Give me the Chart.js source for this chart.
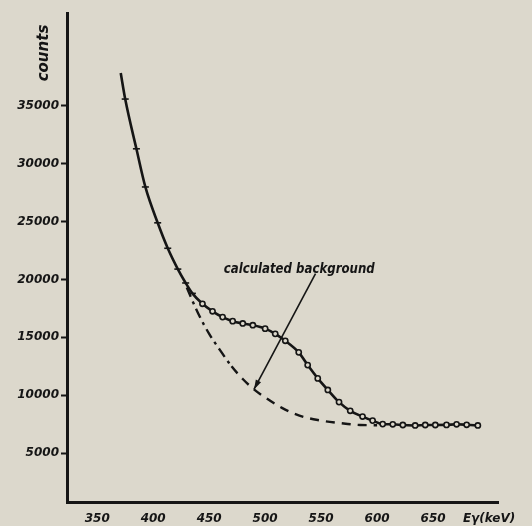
<!DOCTYPE html>
<html>
<head>
<meta charset="utf-8">
<script src="https://cdn.jsdelivr.net/npm/chart.js@4.4.0/dist/chart.umd.min.js"></script>
<style>
  html, body { margin: 0; padding: 0; background: #dcd8cc; }
  #wrap { width: 532px; height: 526px; position: relative; }
</style>
</head>
<body>
<div id="wrap"><canvas id="spectrum"></canvas></div>
<script>
// measured spectrum
const energy = [371, 375, 385, 393, 404, 413, 422, 429, 435, 444, 453, 462, 471, 480, 489, 500, 509, 518, 530, 538, 547, 556, 566, 576, 587, 596, 605, 614, 623, 634, 643, 652, 662, 671, 680, 690];
const counts = [37850, 35600, 31300, 28000, 24900, 22700, 20900, 19700, 18800, 17900, 17250, 16750, 16400, 16200, 16050, 15750, 15300, 14700, 13700, 12600, 11450, 10450, 9400, 8650, 8150, 7800, 7500, 7480, 7420, 7380, 7420, 7420, 7430, 7480, 7440, 7380];

// calculated background curve
const bgEnergy = [430, 440, 450, 460, 470, 480, 490, 500, 515, 530, 547, 567, 585, 600];
const bgCounts = [19300, 17100, 15300, 13850, 12500, 11400, 10500, 9800, 8900, 8250, 7850, 7590, 7420, 7400];

const xTicks = [350, 400, 450, 500, 550, 600, 650, 700];
const yTicks = [5000, 10000, 15000, 20000, 25000, 30000, 35000];
const xUnitLabel = "E\u03B3(keV)";
const yTitle = "counts";
const note = "calculated background";

const ink = "#151515";
const paper = "#dcd8cc";
const tickFont = { family: "'DejaVu Sans', sans-serif", size: 12, style: "italic", weight: "bold" };

const measured = energy.map((e, i) => ({ x: e, y: counts[i] }));
const background = bgEnergy.map((e, i) => ({ x: e, y: bgCounts[i] }));

// first part of the curve has small notch marks, later part open circles
const markStyle = energy.map((e, i) => i === 0 ? false : (e < 440 ? 'line' : 'circle'));
const markRadius = energy.map((e, i) => i === 0 ? 0 : (e < 440 ? 3.5 : 2.6));

const paperPlugin = {
    id: 'paper',
    beforeDraw(chart) {
        const ctx = chart.ctx;
        ctx.save();
        ctx.fillStyle = paper;
        ctx.fillRect(0, 0, chart.width, chart.height);
        ctx.restore();
    }
};

const notesPlugin = {
    id: 'notes',
    afterDraw(chart) {
        const ctx = chart.ctx;
        const xs = chart.scales.x, ys = chart.scales.y;
        ctx.save();
        ctx.fillStyle = ink;
        ctx.strokeStyle = ink;

        // vertical axis title
        ctx.save();
        ctx.translate(44, 53);
        ctx.rotate(-Math.PI / 2);
        ctx.font = "italic bold 15px 'DejaVu Sans', sans-serif";
        ctx.textAlign = "center";
        ctx.textBaseline = "middle";
        ctx.fillText(yTitle, 0, 0);
        ctx.restore();

        // annotation text
        const tx = xs.getPixelForValue(463), ty = ys.getPixelForValue(20900);
        ctx.font = "italic bold 14px 'DejaVu Sans Condensed', 'DejaVu Sans', sans-serif";
        const w = ctx.measureText(note).width;
        ctx.save();
        ctx.translate(tx, ty);
        ctx.scale(151 / w, 1);
        ctx.textBaseline = "middle";
        ctx.fillText(note, 0, 0);
        ctx.restore();

        // arrow to the background curve
        const x0 = xs.getPixelForValue(545), y0 = ys.getPixelForValue(20500);
        const x1 = xs.getPixelForValue(490), y1 = ys.getPixelForValue(10500);
        ctx.lineWidth = 1.6;
        ctx.beginPath();
        ctx.moveTo(x0, y0);
        ctx.lineTo(x1, y1);
        ctx.stroke();
        const a = Math.atan2(y1 - y0, x1 - x0);
        ctx.beginPath();
        ctx.moveTo(x1, y1);
        ctx.lineTo(x1 - 10 * Math.cos(a - 0.3), y1 - 10 * Math.sin(a - 0.3));
        ctx.lineTo(x1 - 10 * Math.cos(a + 0.3), y1 - 10 * Math.sin(a + 0.3));
        ctx.closePath();
        ctx.fill();
        ctx.restore();
    }
};

new Chart(document.getElementById('spectrum'), {
    type: 'line',
    data: {
        datasets: [
            {
                label: 'measured',
                data: measured,
                borderColor: ink,
                borderWidth: 2.6,
                pointStyle: markStyle,
                pointRadius: markRadius,
                pointBackgroundColor: paper,
                pointBorderColor: ink,
                pointBorderWidth: 1.6,
                cubicInterpolationMode: 'monotone',
                fill: false
            },
            {
                label: 'calculated background',
                data: background,
                borderColor: ink,
                borderWidth: 2.4,
                pointRadius: 0,
                cubicInterpolationMode: 'monotone',
                segment: {
                    borderDash: c => c.p0.parsed.x < 465 ? [10, 5, 3, 5] : [9, 7]
                },
                fill: false
            }
        ]
    },
    options: {
        responsive: true,
        maintainAspectRatio: false,
        animation: false,
        layout: { padding: { left: 0, top: 13, right: 34, bottom: 0 } },
        plugins: {
            legend: { display: false },
            tooltip: { enabled: false }
        },
        scales: {
            x: {
                type: 'linear',
                min: 323,
                max: 708,
                afterFit: s => { s.height = 24; },
                afterBuildTicks: s => { s.ticks = xTicks.map(v => ({ value: v })); },
                border: { display: true, color: ink, width: 3 },
                grid: { display: false, drawTicks: false },
                ticks: {
                    color: ink,
                    font: tickFont,
                    padding: 10,
                    maxRotation: 0,
                    autoSkip: false,
                    callback: v => v === 700 ? xUnitLabel : String(v)
                }
            },
            y: {
                type: 'linear',
                min: 764,
                max: 43040,
                afterFit: s => { s.width = 67; },
                afterBuildTicks: s => { s.ticks = yTicks.map(v => ({ value: v })); },
                border: { display: true, color: ink, width: 3 },
                grid: {
                    display: true,
                    drawOnChartArea: false,
                    drawTicks: true,
                    tickLength: 6,
                    tickWidth: 2,
                    tickColor: ink
                },
                ticks: {
                    color: ink,
                    font: tickFont,
                    padding: 2,
                    autoSkip: false,
                    callback: v => String(v)
                }
            }
        }
    },
    plugins: [paperPlugin, notesPlugin]
});
</script>
</body>
</html>
